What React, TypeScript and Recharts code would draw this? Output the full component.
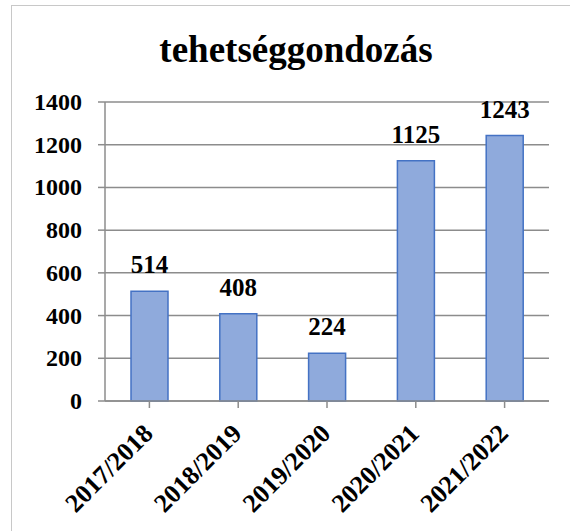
import React from "react";
import { BarChart, Bar, XAxis, YAxis, CartesianGrid, LabelList } from "recharts";

const categories = ["2017/2018", "2018/2019", "2019/2020", "2020/2021", "2021/2022"];
const values = [514, 408, 224, 1125, 1243];
const yTicks = [0, 200, 400, 600, 800, 1000, 1200, 1400];
const title = "tehetséggondozás";

const data = categories.map((c, i) => ({ name: c, value: values[i] }));

const FONT = "Liberation Serif, Times New Roman, DejaVu Serif, serif";
const GRID = "#8c8c8c";
const txtStyle = { fontFamily: FONT, fontWeight: 700 } as const;

const XTick = (props: any) => {
  const { x, y, payload } = props;
  const ax = x + 5;
  const ay = y + 25;
  return (
    <text
      x={ax}
      y={ay}
      textAnchor="end"
      transform={`rotate(-45, ${ax}, ${ay})`}
      style={{ ...txtStyle, fontSize: 26 }}
      fill="#000"
    >
      {payload.value}
    </text>
  );
};

const YTick = (props: any) => {
  const { x, y, payload } = props;
  return (
    <text x={x} y={y} dy={8} textAnchor="end" style={{ ...txtStyle, fontSize: 24 }} fill="#000">
      {payload.value}
    </text>
  );
};

const BarLabel = (props: any) => {
  const { x, y, width, value } = props;
  return (
    <text
      x={x + width / 2}
      y={y - 18}
      textAnchor="middle"
      style={{ ...txtStyle, fontSize: 25 }}
      fill="#000"
    >
      {value}
    </text>
  );
};

export default function App() {
  return (
    <div style={{ position: "absolute", left: 0, top: 0, width: 570, height: 531, background: "#fff" }}>
      <div
        style={{
          position: "absolute",
          left: 11,
          top: 5,
          width: 559,
          height: 526,
          boxSizing: "border-box",
          borderLeft: "1.5px solid #c8c8c8",
          borderTop: "1.5px solid #c8c8c8",
        }}
      />
      <div style={{ position: "absolute", left: 0, top: 0 }}>
        <BarChart
          width={570}
          height={531}
          data={data}
          margin={{ top: 102, right: 21, bottom: 10, left: 0 }}
        >
          <CartesianGrid vertical={false} stroke={GRID} strokeWidth={1.5} />
          <XAxis
            dataKey="name"
            interval={0}
            height={120}
            tick={<XTick />}
            tickSize={7}
            axisLine={{ stroke: GRID, strokeWidth: 1.5 }}
            tickLine={{ stroke: GRID, strokeWidth: 1.5 }}
          />
          <YAxis
            width={105}
            domain={[0, 1400]}
            ticks={yTicks}
            interval={0}
            tick={<YTick />}
            tickSize={7}
            tickMargin={16}
            axisLine={{ stroke: GRID, strokeWidth: 1.5 }}
            tickLine={{ stroke: GRID, strokeWidth: 1.5 }}
          />
          <Bar
            dataKey="value"
            fill="#8faadc"
            stroke="#4472c4"
            strokeWidth={1.5}
            barSize={37}
            isAnimationActive={false}
          >
            <LabelList dataKey="value" content={<BarLabel />} />
          </Bar>
        </BarChart>
      </div>
      <svg
        width={570}
        height={531}
        style={{ position: "absolute", left: 0, top: 0, pointerEvents: "none" }}
      >
        <text x={296} y={62} textAnchor="middle" style={{ ...txtStyle, fontSize: 37 }} fill="#000">
          {title}
        </text>
      </svg>
    </div>
  );
}
